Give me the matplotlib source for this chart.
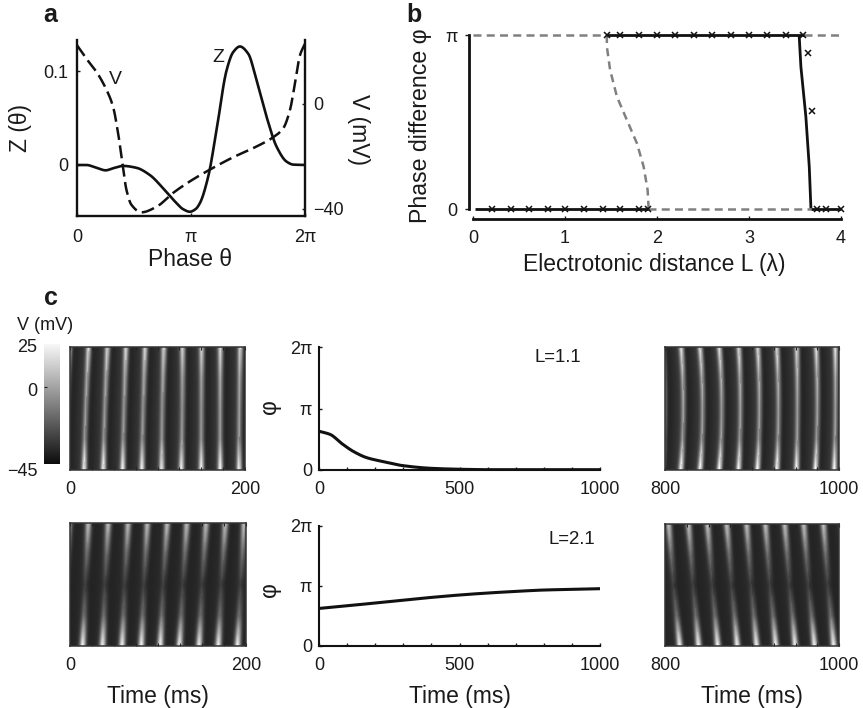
import numpy as np
import matplotlib
matplotlib.use("Agg")
import matplotlib.pyplot as plt

plt.rcParams['font.family'] = ['Liberation Sans', 'DejaVu Sans']
W, H = 863, 708
INK = '#1a1a1a'

# ---------- panel a ----------
z_theta = [0, .082, .17, .252, .316, .404, .521, .638, .755, .873, .93, .99, 1.04, 1.078, 1.151, 1.224, 1.312, 1.37,
           1.429, 1.502, 1.575, 1.663, 1.751, 1.839, 1.897, 2]
z_val = [0, 0, -.003, -.0057, -.0035, -.001, -.003, -.0106, -.0247, -.0406, -.047, -.0498, -.047, -.0406, -.0124, .0371,
         .1007, .1201, .1261, .1184, .0901, .0512, .0194, .0035, .0004, 0]
v_theta = [0, .082, .17, .252, .316, .36, .398, .433, .477, .565, .697, .843, .99, 1.166, 1.37, 1.575, 1.72, 1.81, 1.868,
           1.912, 1.956, 2]
v_val = [22.4, 17.3, 12.3, 6, -1, -11, -22.4, -32.6, -38.4, -41.3, -39.2, -33.9, -29.5, -25, -20.3, -16.2, -12.7, -9.2,
         -2.3, 7.8, 18.6, 23]

# ---------- panel b ----------
stable_lo_L = [0.02, 1.9]
stable_lo_phi = [0, 0]
stable_lo2_L = [3.673, 4.0]
stable_hi_L = [1.455, 3.6]
drop_L = [3.545, 3.564, 3.618, 3.655, 3.673]
drop_phi = [1, .818, .531, .243, .004]
unstable_L = [1.455, 1.455, 1.49, 1.564, 1.673, 1.782, 1.855, 1.898, 1.909]
unstable_phi = [1, .933, .8, .646, .511, .377, .243, .109, .004]
cross_hi_L = [1.455, 1.6, 1.8, 2.0, 2.2, 2.4, 2.6, 2.8, 3.0, 3.2, 3.4, 3.59]
cross_lo_L = [.21, .41, .61, .81, 1.0, 1.21, 1.41, 1.6, 1.8, 1.9, 3.74, 3.84, 4.0]
cross_mid_L = [3.636, 3.69]
cross_mid_phi = [.895, .563]

# ---------- panel c: phase traces ----------
t_top = [0, 40, 81, 123, 170, 218, 300, 400, 500, 600, 800, 1000]
phi_top = [.63, .578, .43, .30, .20, .146, .07, .027, .012, .005, .005, .005]
t_bot = [0, 100, 200, 300, 400, 500, 600, 700, 800, 900, 1000]
phi_bot = [.626, .67, .717, .765, .81, .85, .883, .91, .933, .944, .955]

# ---------- panel c: ridge times of the voltage stripes (ms from window start) ----------
r1_top = [21, 42.7, 64, 86, 107.6, 129, 151, 172.5, 195.4]
r1_mid = [18, 40, 62, 84, 106, 129, 151, 172.5, 194.5]
r1_bot = [16, 38, 60.2, 82.3, 105, 127.6, 150.5, 172.3, 194]
r2_top = [18.4, 40.2, 62.4, 85, 107, 129, 152, 174.5, 196.6]
r2_mid = [21, 43.3, 65.5, 87, 109, 131, 153, 176, 197]
r2_bot = [18, 40.2, 62.4, 84.7, 106.5, 129, 151.7, 173.6, 195.4]
r3_top = [20.5, 43.2, 65.9, 87.9, 110.6, 133, 155, 177, 198.5]
r3_mid = [17.5, 40, 62.5, 84.5, 106.5, 129, 151, 173, 195]
r3_bot = [14, 36.7, 59, 81, 102.7, 124.6, 147, 169, 191]
r4_top = [3.8, 26.8, 48.7, 71, 94, 115.7, 138, 160, 182.8]
r4_mid = [10, 32.5, 54.5, 77, 99.5, 121.5, 144, 166, 188.5]
r4_bot = [16.5, 38.3, 60.5, 83, 105.4, 127.6, 150, 172.4, 194.6]
bright_sync = [.62, .42, .36, .36, .74]
bright_anti = [.58, .26, .07, .26, .78]
amp_rows = [0, .25, .5, .75, 1]


def axpx(x0, y0, x1, y1, **kw):
    return fig.add_axes([x0 / W, 1 - y1 / H, (x1 - x0) / W, (y1 - y0) / H], **kw)


def lab(x, y, s, **kw):
    kw.setdefault('ha', 'center')
    kw.setdefault('va', 'center')
    kw.setdefault('color', INK)
    fig.text(x / W, 1 - y / H, s, **kw)


def smooth(x, y, n=20):
    """Monotone cubic through the read points, only to draw them without corners."""
    x, y = np.asarray(x, float), np.asarray(y, float)
    h = np.diff(x)
    d = np.diff(y) / h
    m = np.zeros_like(y)
    m[0], m[-1] = d[0], d[-1]
    for i in range(1, len(x) - 1):
        if d[i - 1] * d[i] > 0:
            w1, w2 = 2 * h[i] + h[i - 1], h[i] + 2 * h[i - 1]
            m[i] = (w1 + w2) / (w1 / d[i - 1] + w2 / d[i])
    xs, ys = [], []
    for i in range(len(h)):
        s = np.linspace(0, 1, n, endpoint=False)
        xs.append(x[i] + s * h[i])
        ys.append((2 * s ** 3 - 3 * s ** 2 + 1) * y[i] + (s ** 3 - 2 * s ** 2 + s) * h[i] * m[i]
                  + (-2 * s ** 3 + 3 * s ** 2) * y[i + 1] + (s ** 3 - s ** 2) * h[i] * m[i + 1])
    return np.r_[np.concatenate(xs), x[-1]], np.r_[np.concatenate(ys), y[-1]]


def voltage_image(top, mid, bot, amps, sigma, base):
    rows = np.linspace(0, 1, 122)
    t = np.linspace(0, 200, 174)
    top, mid, bot = map(np.asarray, (top, mid, bot))
    img = np.zeros((rows.size, t.size))
    l0 = 2 * (rows - .5) * (rows - 1)
    l1 = -4 * rows * (rows - 1)
    l2 = 2 * rows * (rows - .5)
    amp_all = np.interp(rows, amp_rows, amps)
    for i in range(rows.size):
        ridge = l0[i] * top + l1[i] * mid + l2[i] * bot
        ext = np.concatenate(([ridge[0] - 22], ridge, [ridge[-1] + 22]))
        idx = np.clip(np.searchsorted(ext, t) - 1, 0, ext.size - 2)
        ph = (t - ext[idx]) / (ext[idx + 1] - ext[idx])
        row = base[0] + base[1] * ph ** 1.5
        for r in ext:
            row = row + amp_all[i] * np.exp(-(t - r) ** 2 / (2 * sigma ** 2))
        img[i] = row
    return np.clip(img, 0.04, .97)


fig = plt.figure(figsize=(W / 100, H / 100), dpi=100, facecolor='white')
TICK = 13
AX = 16.5

# ---------- a ----------
axa = axpx(77, 40, 305, 216)
axa.set_xlim(0, 2)
axa.set_ylim(-.0543, .133)
axa.plot(*smooth(z_theta, z_val), color='#111111', lw=1.9, solid_joinstyle='round')
axa.set_xticks([0, 1, 2], ['0', 'π', '2π'])
axa.set_yticks([0, .1], ['0', '0.1'])
axa.tick_params(axis='x', length=2, width=1, direction='in', labelsize=TICK, pad=9, colors=INK)
axa.tick_params(axis='y', length=2, width=1, direction='in', labelsize=TICK, pad=6, colors=INK)
for s in ('left', 'right', 'bottom'):
    axa.spines[s].set_linewidth(1.7)
    axa.spines[s].set_color('#111111')
axa.spines['top'].set_visible(False)
axb2 = axa.twinx()
axb2.set_ylim(-42.7, 24.4)
axb2.plot(*smooth(v_theta, v_val), color='#111111', lw=1.8, dashes=(5.2, 2.2))
axb2.set_yticks([-40, 0], ['−40', '0'])
axb2.tick_params(axis='y', length=2, width=1, direction='in', labelsize=TICK, pad=6, colors=INK)
for s in axb2.spines.values():
    s.set_visible(False)
lab(218, 58, 'Z', fontsize=14)
lab(115, 80, 'V', fontsize=14)
lab(20, 128, 'Z (θ)', fontsize=AX, rotation=90)
lab(358, 129, 'V (mV)', fontsize=AX, rotation=270)
lab(190, 259, 'Phase θ', fontsize=AX)
lab(50, 15, 'a', fontsize=18, fontweight='bold')

# ---------- b ----------
axb = axpx(473, 35, 841, 209)
axb.set_xlim(0, 4)
axb.set_ylim(0, 1)
dash = dict(color='#808080', lw=1.8, dashes=(3.2, 2.1), clip_on=False)
axb.plot([0, 1.455], [1, 1], **dash)
axb.plot([3.6, 4.0], [1, 1], **dash)
axb.plot([1.9, 3.67], [0, 0], **dash)
axb.plot(unstable_L, unstable_phi, **dash)
solid = dict(color='#111111', lw=2, clip_on=False, solid_capstyle='butt')
axb.plot(stable_lo_L, stable_lo_phi, **solid)
axb.plot(stable_lo2_L, [0, 0], **solid)
axb.plot(stable_hi_L, [1, 1], **solid)
axb.plot(drop_L, drop_phi, **solid)
mk = dict(ls='none', marker='x', ms=5, mew=1.1, color='#111111', clip_on=False)
axb.plot(cross_hi_L, np.ones(len(cross_hi_L)), **mk)
axb.plot(cross_lo_L, np.zeros(len(cross_lo_L)), **mk)
axb.plot(cross_mid_L, cross_mid_phi, **mk)
axb.set_xticks([0, 1, 2, 3, 4])
axb.set_yticks([0, 1], ['0', 'π'])
axb.tick_params(axis='x', length=2, width=1, direction='in', labelsize=TICK, pad=8, colors=INK)
axb.tick_params(axis='y', length=3, width=1, direction='out', labelsize=TICK, pad=5, colors=INK)
axb.spines['top'].set_visible(False)
axb.spines['right'].set_visible(False)
axb.spines['left'].set_position(('outward', 3))
axb.spines['bottom'].set_position(('outward', 7))
for s in ('left', 'bottom'):
    axb.spines[s].set_linewidth(2)
    axb.spines[s].set_color('#111111')
lab(420, 126, 'Phase difference φ', fontsize=16.7, rotation=90)
lab(654, 265, 'Electrotonic distance L (λ)', fontsize=AX)
lab(414, 15, 'b', fontsize=18, fontweight='bold')

# ---------- c ----------
lab(51, 298, 'c', fontsize=18, fontweight='bold')
lab(45, 326, 'V (mV)', fontsize=13)
axc = axpx(44, 344, 59, 464)
grad = np.linspace(.97, .05, 200)[:, None]
axc.imshow(grad, cmap='gray', vmin=0, vmax=1, aspect='auto', extent=[0, 1, -45, 25])
axc.set_xticks([])
axc.set_yticks([0], [''])
axc.tick_params(axis='y', length=2, width=.8, direction='in', color='#222222')
for s in axc.spines.values():
    s.set_visible(False)
lab(27, 348, '25', fontsize=TICK)
lab(32, 392, '0', fontsize=TICK)
lab(22, 472, '−45', fontsize=TICK)


def heat(box, ridges, amps, sigma, base, xl, xlabel=False):
    ax = axpx(*box)
    img = voltage_image(*ridges, amps, sigma, base)
    ax.imshow(img, cmap='gray', vmin=0, vmax=1, aspect='auto', extent=[xl[0], xl[1], 0, 1], interpolation='bilinear')
    ax.set_xticks(xl)
    ax.set_xticks(np.arange(xl[0], xl[1] + 1, 25), minor=True)
    ax.set_yticks([])
    ax.tick_params(axis='x', which='major', length=2, width=.8, direction='in', top=True, labelsize=TICK, pad=8,
                   colors=INK)
    ax.tick_params(axis='x', which='minor', length=2, width=.8, direction='in', top=True, color='#222222')
    for s in ax.spines.values():
        s.set_linewidth(1.1)
        s.set_color('#333333')
    if xlabel:
        ax.set_xlabel('Time (ms)', fontsize=AX, labelpad=8, color=INK)
    return ax


heat((70, 347, 245, 470), (r1_top, r1_mid, r1_bot), bright_sync, 2.2, (.12, .14), [0, 200])
heat((665, 347, 839, 470), (r2_top, r2_mid, r2_bot), bright_sync, 2.2, (.12, .14), [800, 1000])
heat((70, 523, 246, 646), (r3_top, r3_mid, r3_bot), bright_anti, 2.5, (.13, .05), [0, 200], True)
heat((665, 524, 839, 646), (r4_top, r4_mid, r4_bot), bright_anti, 2.5, (.13, .05), [800, 1000], True)


def trace(box, t, phi, label, label_xy, phi_y, xlabel=False):
    ax = axpx(*box)
    ax.set_xlim(0, 1000)
    ax.set_ylim(0, 2)
    ax.plot(*smooth(t, phi), color='#111111', lw=2.2)
    ax.set_xticks([0, 500, 1000])
    ax.set_xticks(np.arange(0, 1001, 100), minor=True)
    ax.set_yticks([0, 1, 2], ['0', 'π', '2π'])
    ax.tick_params(which='both', length=2.5, width=1, direction='in', colors=INK)
    ax.tick_params(axis='both', which='major', labelsize=TICK)
    ax.tick_params(axis='x', which='major', pad=8)
    ax.tick_params(axis='y', pad=5)
    ax.spines['top'].set_visible(False)
    ax.spines['right'].set_visible(False)
    for s in ('left', 'bottom'):
        ax.spines[s].set_linewidth(1.5)
        ax.spines[s].set_color('#111111')
    lab(label_xy[0], label_xy[1], label, fontsize=13.4)
    lab(270, phi_y, 'φ', fontsize=AX, rotation=90)
    if xlabel:
        ax.set_xlabel('Time (ms)', fontsize=AX, labelpad=8, color=INK)


trace((319, 347, 600, 470), t_top, phi_top, 'L=1.1', (558, 358), 407)
trace((319, 526, 600, 646), t_bot, phi_bot, 'L=2.1', (572, 539), 590, True)

fig.savefig('out.png', dpi=100, facecolor='white')
